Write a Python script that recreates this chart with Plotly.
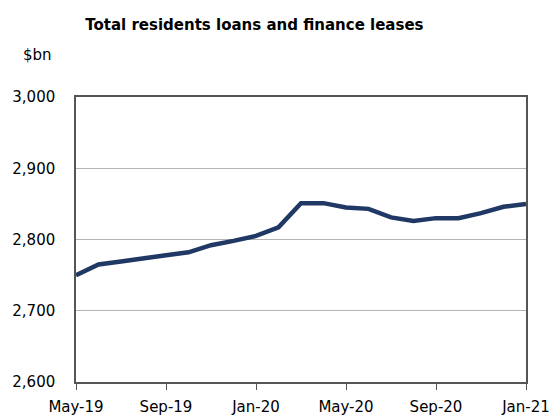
import plotly.graph_objects as go

# Monthly totals, $bn
months = ["May-19", "Jun-19", "Jul-19", "Aug-19", "Sep-19", "Oct-19", "Nov-19",
          "Dec-19", "Jan-20", "Feb-20", "Mar-20", "Apr-20", "May-20", "Jun-20",
          "Jul-20", "Aug-20", "Sep-20", "Oct-20", "Nov-20", "Dec-20", "Jan-21"]
loans = [2750, 2765, 2769, 2774, 2778, 2782, 2792, 2798, 2805, 2817, 2851,
         2851, 2845, 2843, 2831, 2826, 2830, 2830, 2837, 2846, 2850]
tick_labels = ["May-19", "Sep-19", "Jan-20", "May-20", "Sep-20", "Jan-21"]
y_ticks = [2600, 2700, 2800, 2900, 3000]

FONT = "DejaVu Sans"
idx = list(range(len(months)))
tick_pos = [months.index(t) for t in tick_labels]

fig = go.Figure(go.Scatter(
    x=idx, y=loans, mode="lines",
    line=dict(color="#1F3864", width=4.5),
    hoverinfo="skip",
))

fig.update_layout(
    width=553, height=415,
    margin=dict(l=76, r=27, t=97, b=33, autoexpand=False),
    paper_bgcolor="white", plot_bgcolor="white",
    showlegend=False,
    font=dict(family=FONT, size=15, color="black"),
    title=dict(text="<b>Total residents loans and finance leases</b>",
               x=0.46, xanchor="center", y=1 - 25 / 415, yanchor="middle",
               font=dict(family=FONT, size=15, color="black")),
    annotations=[dict(text="$bn", xref="paper", yref="paper",
                      x=-39 / 450, y=1 + 42 / 285, xanchor="center",
                      yanchor="middle", showarrow=False,
                      font=dict(family=FONT, size=15, color="black"))],
)

fig.update_xaxes(
    range=[0, len(months) - 1],
    tickvals=tick_pos, ticktext=tick_labels,
    ticks="outside", ticklen=6, tickwidth=1, tickcolor="#555555",
    showline=True, linecolor="#555555", linewidth=1.5, mirror=True,
    showgrid=False, zeroline=False, automargin=False,
    ticklabelstandoff=4,
    tickfont=dict(family=FONT, size=15),
)
fig.update_yaxes(
    range=[2600, 3000],
    tickvals=y_ticks, ticktext=[f"{v:,}" for v in y_ticks],
    ticks="", showline=True, linecolor="#555555", linewidth=1.5, mirror=True,
    showgrid=True, gridcolor="#B4B4B4", gridwidth=1.2, zeroline=False,
    automargin=False, ticklabelstandoff=16,
    tickfont=dict(family=FONT, size=15),
)

fig.write_html("out.html")
